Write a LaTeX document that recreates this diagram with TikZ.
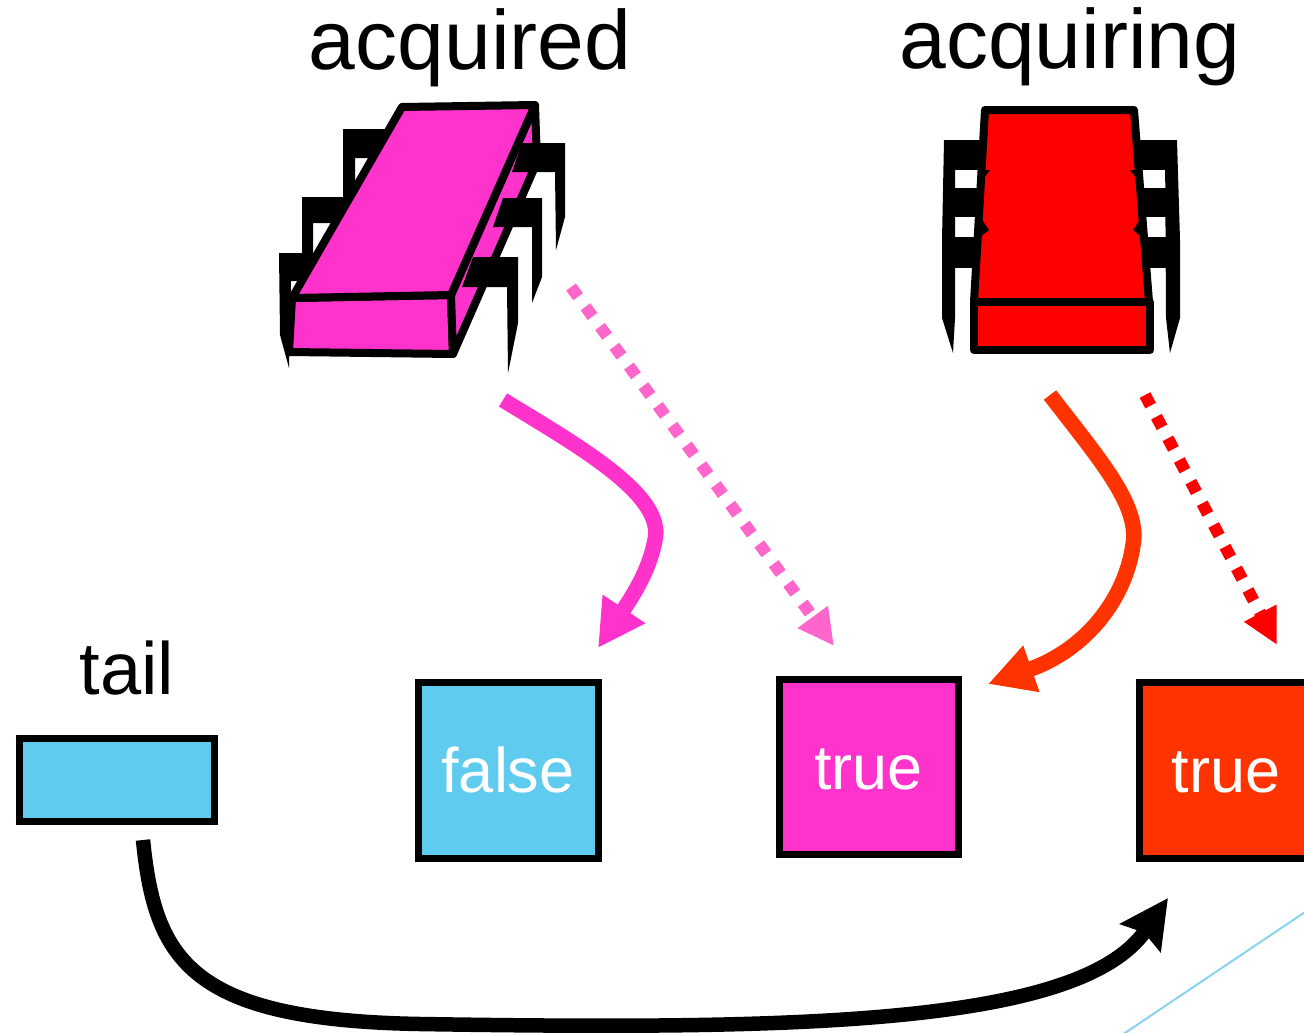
\documentclass[tikz,border=0pt]{standalone}
\usepackage{fontspec}
\setmainfont{Liberation Sans}
\usetikzlibrary{arrows.meta}
\definecolor{chipmag}{HTML}{FF33CC}
\definecolor{dotmag}{HTML}{FF66CC}
\definecolor{chipred}{HTML}{FF0000}
\definecolor{hotred}{HTML}{FF3300}
\definecolor{cellblue}{HTML}{5FCBEF}
\definecolor{guideblue}{HTML}{8AD3F0}

\begin{document}
\begin{tikzpicture}[x=1pt,y=-1pt,
  cell/.style={draw=black,line width=7pt,inner sep=0pt,text=white,
    font=\fontsize{63}{70}\selectfont,text height=45pt,text depth=0pt},
  heading/.style={font=\fontsize{84}{92}\selectfont,anchor=base,inner sep=0pt},
  chipline/.style={draw=black,line width=8pt,line join=round},
  solidarrow/.style={line width=15.5pt},
  dotarrow/.style={line width=12pt,dash pattern=on 12pt off 12.5pt},
]
\useasboundingbox (0,0) rectangle (1304,1033);
\clip (0,0) rectangle (1304,1033);

% ---------- headings ----------
\node[heading] (acqd) at (470,70) {acquired};
\node[heading] (acqg) at (1070,69) {acquiring};
\node[heading,font=\fontsize{74}{80}\selectfont] (tailtxt) at (127,694) {tail};

% ---------- magenta chip: legs behind (left side) ----------
\fill (343,129) -- (405,129) -- (405,158) -- (355,158) -- (355,215) -- (343,215) -- cycle;
\fill (302,197) -- (365,197) -- (365,223) -- (313,223) -- (313,270) -- (302,270) -- cycle;
\fill (279,253) -- (335,253) -- (335,281) -- (291,281) -- (289,368) -- (280,335) -- cycle;
% faces
\filldraw[chipline,fill=chipmag] (292,298) -- (451,295) -- (453,354) -- (289,352) -- cycle;
\filldraw[chipline,fill=chipmag] (451,295) -- (535,105) -- (537,162) -- (453,354) -- cycle;
\filldraw[chipline,fill=chipmag] (402,107) -- (535,105) -- (451,295) -- (292,298) -- cycle;
% legs in front (right side)
\fill (522,143) -- (565,143) -- (565,217) -- (556,250) -- (555,172) -- (512,172) -- cycle;
\fill (503,198) -- (542,198) -- (542,277) -- (532,303) -- (532,227) -- (493,227) -- cycle;
\fill (473,257) -- (518,257) -- (518,323) -- (508,373) -- (507,287) -- (462,287) -- cycle;

% ---------- red chip ----------
\fill (944,140) rectangle (995,170);
\fill (944,188) rectangle (995,217);
\fill (944,237) rectangle (995,268);
\fill (944,140) -- (955,140) -- (955,318) -- (953,353) -- (942,318) -- (942,240) -- cycle;
\fill (1128,140) rectangle (1177,170);
\fill (1128,188) rectangle (1178,217);
\fill (1128,237) rectangle (1180,268);
\fill (1165,140) -- (1177,140) -- (1180,240) -- (1180,318) -- (1170,353) -- (1166,318) -- cycle;
\filldraw[chipline,fill=chipred] (985,110) -- (1134,110) -- (1149,302) -- (974,302) -- cycle;
\filldraw[chipline,fill=chipred] (974,302) rectangle (1150,350);
% bevelled ends of the leg bars where they meet the body
\fill (981,170) -- (990,170) -- (981,182) -- cycle;
\fill (980,217) -- (989,230) -- (980,237) -- cycle;
\fill (1139,170) -- (1130,170) -- (1139,182) -- cycle;
\fill (1142,217) -- (1133,230) -- (1142,237) -- cycle;

% ---------- cells ----------
\node[cell,fill=cellblue,minimum width=195pt,minimum height=83pt] (tail) at (116.5,779.5) {};
\node[cell,fill=cellblue,minimum width=180pt,minimum height=176pt] (fcell) at (508,770) {false};
\node[cell,fill=chipmag,minimum width=179pt,minimum height=175pt] (tmag) at (868.5,766.5) {true};
\node[cell,fill=hotred,minimum width=174pt,minimum height=176pt] (tred) at (1226,770) {true};

% ---------- connector end points ----------
\coordinate (magS) at (503,400);
\coordinate (magE) at (598,648);
\coordinate (mdotS) at (571,287);
\coordinate (mdotE) at (834,646);
\coordinate (orS) at (1050,395);
\coordinate (orE) at (988,684);
\coordinate (rdotS) at (1145,395);
\coordinate (rdotE) at (1277,645);
\coordinate (tailS) at (143,840);
\coordinate (tailE) at (1168,898);
\coordinate (gA) at (1110,1043);
\coordinate (gB) at (1320,902);

% ---------- connectors ----------
\draw[solidarrow,chipmag,-{Triangle[length=47pt,width=48pt]}]
  (magS) .. controls (580,447) and (665,495) .. (655,540)
         .. controls (650,565) and (640,585) .. (magE);
\draw[dotarrow,dotmag,-{Triangle[length=36pt,width=35pt]}] (mdotS) -- (mdotE);
\draw[solidarrow,hotred,-{Triangle[length=46pt,width=46pt]}]
  (orS) .. controls (1100,460) and (1140,505) .. (1133,545)
        .. controls (1125,600) and (1085,650) .. (orE);
\draw[dotarrow,chipred,-{Triangle[length=36pt,width=34pt]}] (rdotS) -- (rdotE);
\draw[line width=14.5pt,-{Stealth[length=48pt,width=48pt,inset=6pt]}]
  (tailS) .. controls (155,960) and (190,1020) .. (420,1024)
          .. controls (800,1030) and (1080,1025) .. (tailE);
\draw[guideblue,line width=2pt] (gA) -- (gB);
\end{tikzpicture}
\end{document}
